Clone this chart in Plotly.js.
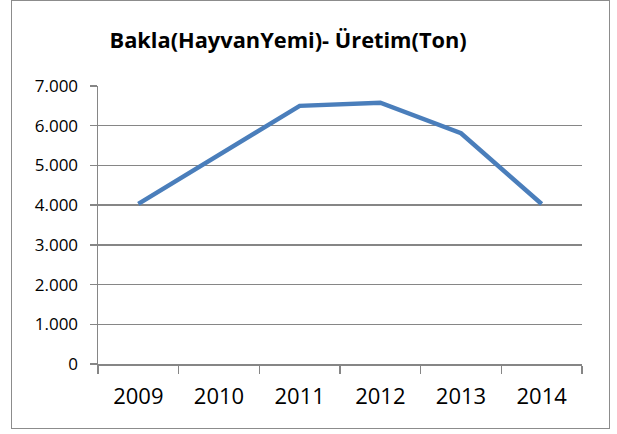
<!DOCTYPE html>
<html>
<head>
<meta charset="utf-8">
<script src="https://cdn.plot.ly/plotly-3.0.1.min.js"></script>
<style>
  html, body { margin: 0; padding: 0; background: #fff; }
  #wrap { position: relative; width: 617px; height: 434px; }
  #frame { position: absolute; left: 11px; top: 0px; width: 599px; height: 429px; border: 1.5px solid #8c8c8c; box-sizing: border-box; pointer-events: none; z-index: 2; }
  #chart { position: absolute; left: 0; top: 0; width: 617px; height: 434px; }
</style>
</head>
<body>
<div id="wrap">
  <div id="chart"></div>
  <div id="frame"></div>
</div>
<script>
const years = ["2009", "2010", "2011", "2012", "2013", "2014"];
const production = [4030, 5270, 6500, 6580, 5810, 4030];
const yTicks = [0, 1000, 2000, 3000, 4000, 5000, 6000, 7000];
const yTickLabels = ["0", "1.000", "2.000", "3.000", "4.000", "5.000", "6.000", "7.000"];
const chartTitle = "Bakla(HayvanYemi)- Üretim(Ton)";

const trace = {
  x: years,
  y: production,
  type: "scatter",
  mode: "lines",
  line: { color: "#4a7ebb", width: 4.5 },
  hoverinfo: "none"
};

const layout = {
  width: 617,
  height: 434,
  margin: { l: 98, r: 35, t: 86, b: 70 },
  paper_bgcolor: "#ffffff",
  plot_bgcolor: "#ffffff",
  showlegend: false,
  font: { family: "Open Sans, sans-serif", color: "#000000" },
  title: {
    text: "<b>" + chartTitle + "</b>",
    font: { family: "Open Sans, sans-serif", size: 21.8, color: "#000000" },
    xref: "container", yref: "container",
    x: 0.467, xanchor: "center",
    y: 0.908, yanchor: "middle"
  },
  xaxis: {
    type: "category",
    categoryorder: "array",
    categoryarray: years,
    range: [-0.5, 5.5],
    showgrid: false,
    zeroline: false,
    showline: true,
    linecolor: "#868686",
    linewidth: 1.5,
    ticks: "outside",
    tickson: "boundaries",
    ticklen: 8,
    tickwidth: 1.5,
    tickcolor: "#868686",
    tickfont: { family: "Open Sans, sans-serif", size: 22, color: "#000000" },
    ticklabelstandoff: 12,
    fixedrange: true
  },
  yaxis: {
    range: [0, 7000],
    tickvals: yTicks,
    ticktext: yTickLabels,
    showgrid: true,
    gridcolor: "#868686",
    gridwidth: 1.5,
    zeroline: false,
    showline: true,
    linecolor: "#868686",
    linewidth: 1.5,
    ticks: "outside",
    ticklen: 7,
    tickwidth: 1.5,
    tickcolor: "#868686",
    tickfont: { family: "Open Sans, sans-serif", size: 17, color: "#000000" },
    ticklabelstandoff: 8,
    fixedrange: true
  }
};

Plotly.newPlot("chart", [trace], layout, { displayModeBar: false, staticPlot: true });
</script>
</body>
</html>
